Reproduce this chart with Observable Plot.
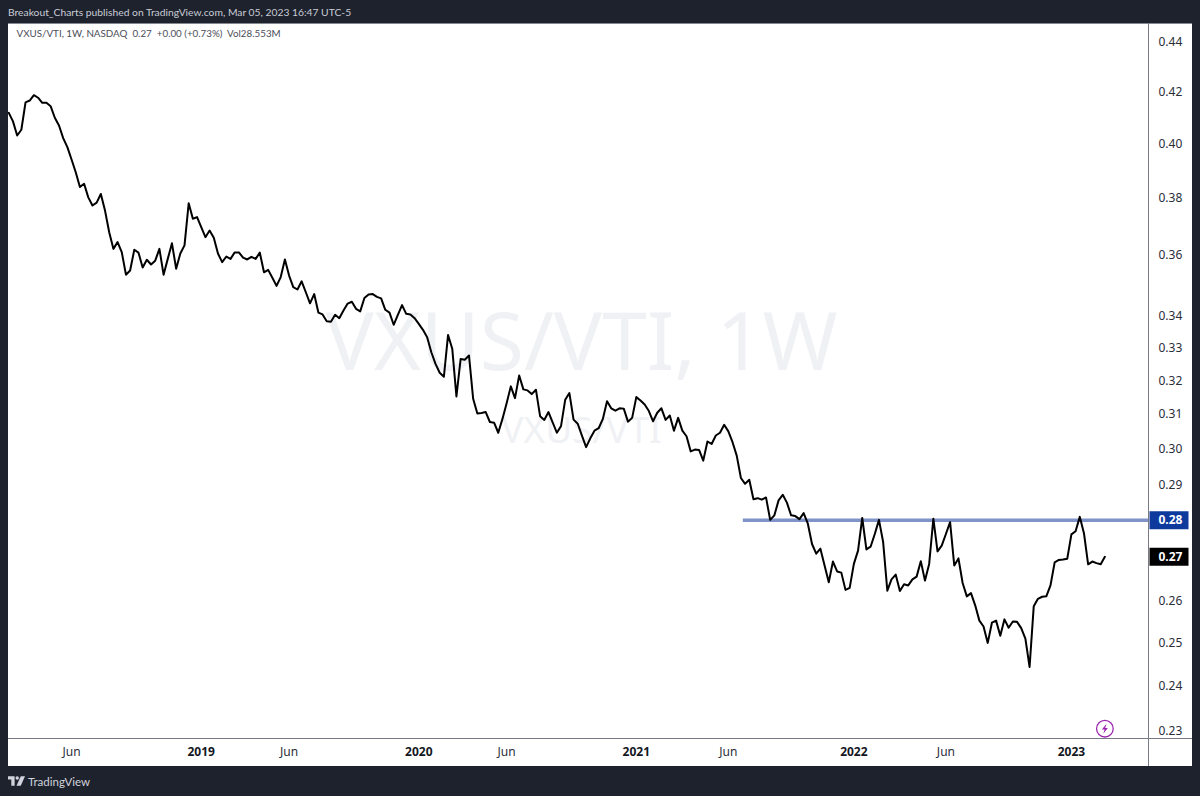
<!DOCTYPE html>
<html>
<head>
<meta charset="utf-8">
<script src="https://cdn.jsdelivr.net/npm/d3@7"></script>
<script src="https://cdn.jsdelivr.net/npm/@observablehq/plot@0.6"></script>
<style>
  html, body { margin: 0; padding: 0; background: #1e222d; }
  #page { position: relative; width: 1200px; height: 796px; overflow: hidden; background: #1e222d; font-family: "Noto Sans", sans-serif; }
  #header { position: absolute; left: 8px; top: 4px; font-family: Lato, sans-serif; font-size: 10.3px; line-height: 16px; color: #c9ccd6; white-space: nowrap; }
  #panel { position: absolute; left: 8px; top: 23px; width: 1184px; height: 743px; background: #fff; border-top: 1px solid #85878f; box-sizing: border-box; }
  #sepV { position: absolute; left: 1148px; top: 23px; width: 1.4px; height: 743px; background: #787b86; }
  #sepH { position: absolute; left: 8px; top: 738px; width: 1184px; height: 1.4px; background: #787b86; }
  #chart { position: absolute; left: 0; top: 23px; }
  #footer { position: absolute; left: 8px; top: 772px; height: 18px; display: flex; align-items: center; gap: 3px; color: #d1d4dc; font-family: Lato, sans-serif; font-size: 11.5px; }
</style>
</head>
<body>
<div id="page">
  <div id="header">Breakout_Charts published on TradingView.com, Mar 05, 2023 16:47 UTC-5</div>
  <div id="panel"></div>
  <div id="chart"></div>
  <div id="sepV"></div>
  <div id="sepH"></div>
  <div id="footer">
    <svg width="17" height="10" viewBox="0 0 36 20"><path fill="#d1d4dc" d="M0 0h14v20H7V7H0z"/><circle cx="19.5" cy="3.6" r="3.6" fill="#d1d4dc"/><path fill="#d1d4dc" d="M27 0h9l-9 20h-9z"/></svg>
    <span>TradingView</span>
  </div>
</div>
<script>
const firstWeek = "2018-02-19";
const closes = [
  0.4118,0.4085,0.4031,0.4053,0.4159,0.4166,0.4187,0.4177,0.4157,0.4157,
  0.4144,0.4099,0.4069,0.4021,0.3987,0.3941,0.3894,0.3840,0.3852,0.3803,
  0.3774,0.3784,0.3815,0.3756,0.3680,0.3623,0.3646,0.3612,0.3536,0.3550,
  0.3620,0.3610,0.3560,0.3586,0.3570,0.3583,0.3623,0.3536,0.3589,0.3642,
  0.3556,0.3607,0.3635,0.3782,0.3727,0.3733,0.3698,0.3663,0.3686,0.3661,
  0.3607,0.3578,0.3597,0.3589,0.3611,0.3611,0.3593,0.3587,0.3596,0.3589,
  0.3610,0.3544,0.3552,0.3526,0.3499,0.3528,0.3587,0.3533,0.3495,0.3487,
  0.3514,0.3478,0.3442,0.3472,0.3412,0.3406,0.3384,0.3383,0.3405,0.3394,
  0.3419,0.3441,0.3447,0.3424,0.3416,0.3459,0.3471,0.3472,0.3463,0.3458,
  0.3421,0.3412,0.3373,0.3405,0.3436,0.3408,0.3406,0.3394,0.3376,0.3357,
  0.3334,0.3287,0.3251,0.3224,0.3212,0.3341,0.3298,0.3153,0.3266,0.3264,
  0.3277,0.3146,0.3103,0.3104,0.3107,0.3078,0.3076,0.3047,0.3087,0.3133,
  0.3183,0.3148,0.3216,0.3174,0.3171,0.3160,0.3173,0.3095,0.3084,0.3107,
  0.3077,0.3047,0.3066,0.3143,0.3163,0.3085,0.3073,0.3039,0.3006,0.3031,
  0.3053,0.3060,0.3087,0.3139,0.3118,0.3111,0.3118,0.3117,0.3079,0.3090,
  0.3151,0.3141,0.3129,0.3110,0.3080,0.3105,0.3118,0.3084,0.3097,0.3053,
  0.3090,0.3053,0.3037,0.2994,0.2999,0.2998,0.2968,0.3022,0.3015,0.3039,
  0.3047,0.3070,0.3051,0.3020,0.2982,0.2920,0.2904,0.2915,0.2862,0.2865,
  0.2861,0.2867,0.2807,0.2819,0.2859,0.2874,0.2853,0.2819,0.2817,0.2809,
  0.2825,0.2797,0.2744,0.2719,0.2732,0.2689,0.2647,0.2699,0.2674,0.2671,
  0.2628,0.2633,0.2693,0.2727,0.2812,0.2730,0.2737,0.2770,0.2807,0.2749,
  0.2626,0.2654,0.2666,0.2625,0.2642,0.2639,0.2654,0.2661,0.2700,0.2651,
  0.2693,0.2810,0.2725,0.2740,0.2770,0.2801,0.2689,0.2707,0.2645,0.2612,
  0.2620,0.2590,0.2553,0.2539,0.2500,0.2548,0.2553,0.2517,0.2556,0.2536,
  0.2551,0.2550,0.2535,0.2510,0.2444,0.2588,0.2606,0.2611,0.2612,0.2639,
  0.2697,0.2703,0.2704,0.2706,0.2769,0.2777,0.2815,0.2772,0.2692,0.2699,
  0.2695,0.2692,0.2711
];
const priceTicks = [0.44,0.42,0.40,0.38,0.36,0.34,0.33,0.32,0.31,0.30,0.29,0.26,0.25,0.24,0.23];
const monthTicks = ["2018-06-04","2019-06-03","2020-06-01","2021-06-07","2022-06-06"];
const yearTicks = ["2019-01-07","2020-01-06","2021-01-04","2022-01-03","2023-01-02"];
const xDomain = ["2018-02-18T12:00Z","2023-05-11"];
const yDomain = [0.22848,0.44794];
const levelPrice = 0.2806;
const levelStart = "2021-07-02";
const levelLabel = "0.28";
const lastLabel = "0.27";
const legendText = "VXUS/VTI, 1W, NASDAQ  0.27  +0.00 (+0.73%)  Vol28.553M";
const watermarkMain = "VXUS/VTI, 1W";
const watermarkSub = "VXUS/VTI";
const markerDate = "2023-02-27";
const markerPrice = 0.2306;

const start = new Date(firstWeek);
const series = closes.map((close, i) => ({date: d3.utcDay.offset(start, 7 * i), close}));
const lastClose = closes[closes.length - 1];
const toDate = s => new Date(s);

const tag = {draw(ctx) { ctx.rect(1, -9, 39, 18); }};
const bolt = {draw(ctx) {
  ctx.moveTo(1.6,-5); ctx.lineTo(-3,0.8); ctx.lineTo(-0.3,0.8);
  ctx.lineTo(-1.6,5); ctx.lineTo(3,-0.8); ctx.lineTo(0.3,-0.8); ctx.closePath();
}};

const chart = Plot.plot({
  width: 1200,
  height: 743,
  marginLeft: 8,
  marginRight: 52,
  marginTop: 0,
  marginBottom: 28,
  style: {background: "transparent", fontFamily: "'Noto Sans', sans-serif"},
  x: {type: "utc", domain: xDomain.map(toDate)},
  y: {type: "log", domain: yDomain},
  marks: [
    Plot.text([watermarkMain], {
      text: d => d, frameAnchor: "middle", dx: 3, dy: -37,
      fontSize: 80.5, fill: "#f0f1f4", fontFamily: "'Noto Sans', sans-serif"
    }),
    Plot.text([watermarkSub], {
      text: d => d, frameAnchor: "middle", dx: 3, dy: 50,
      fontSize: 37, fill: "#f0f1f4", fontFamily: "'Noto Sans', sans-serif"
    }),
    Plot.text([legendText], {
      text: d => d, frameAnchor: "top-left", dx: 8, dy: 7, textAnchor: "start",
      fontSize: 9.8, fontFamily: "Lato, sans-serif", fill: "#4a4d57", style: "white-space:pre"
    }),
    Plot.ruleY([levelPrice], {
      x1: toDate(levelStart), x2: toDate(xDomain[1]), stroke: "#8093c8", strokeWidth: 3.5
    }),
    Plot.lineY(series, {x: "date", y: "close", stroke: "#000", strokeWidth: 2, strokeLinejoin: "round"}),
    Plot.axisY(priceTicks, {
      anchor: "right", tickSize: 0, tickPadding: 10, label: null,
      tickFormat: d3.format(".2f"), fontSize: 12, color: "#2a2e39"
    }),
    Plot.axisX(monthTicks.map(toDate), {
      tickSize: 0, tickPadding: 9, label: null, tickFormat: "%b", fontSize: 12, color: "#2a2e39"
    }),
    Plot.axisX(yearTicks.map(toDate), {
      tickSize: 0, tickPadding: 9, label: null, tickFormat: "%Y", fontSize: 12, fontWeight: "bold", color: "#131722"
    }),
    Plot.dot([levelPrice], {y: d => d, frameAnchor: "right", symbol: tag, fill: "#0e3a9e", stroke: "none"}),
    Plot.text([levelPrice], {
      y: d => d, text: () => levelLabel, frameAnchor: "right", textAnchor: "start",
      dx: 10, fontSize: 12, fontWeight: "bold", fill: "#fff"
    }),
    Plot.dot([lastClose], {y: d => d, frameAnchor: "right", symbol: tag, fill: "#000", stroke: "none"}),
    Plot.text([lastClose], {
      y: d => d, text: () => lastLabel, frameAnchor: "right", textAnchor: "start",
      dx: 10, fontSize: 12, fontWeight: "bold", fill: "#fff"
    }),
    Plot.dot([markerPrice], {x: () => toDate(markerDate), y: d => d, r: 8.3, stroke: "#9c27b0", strokeWidth: 1.3, fill: "none"}),
    Plot.dot([markerPrice], {x: () => toDate(markerDate), y: d => d, symbol: bolt, fill: "#9c27b0", stroke: "none"})
  ]
});
document.getElementById("chart").appendChild(chart);
</script>
</body>
</html>
